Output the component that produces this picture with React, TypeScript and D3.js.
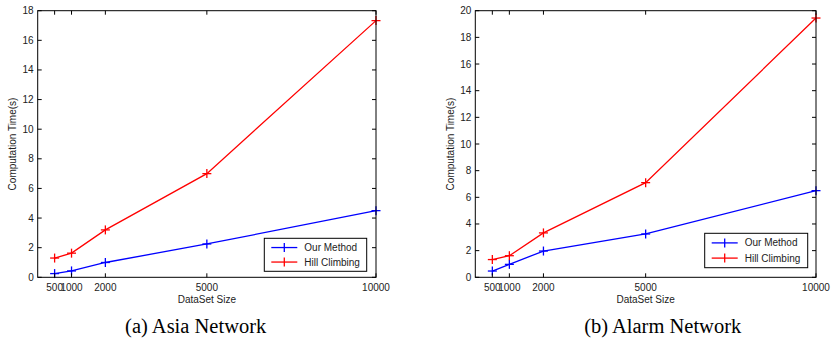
import React from "react";
import * as d3 from "d3";

const sizes = [500, 1000, 2000, 5000, 10000];
const xTickLabels = ["500", "1000", "2000", "5000", "10000"];
const seriesNames = ["Our Method", "Hill Climbing"];
const seriesColors = ["#0000ff", "#ff0000"];

const asiaOurMethod = [0.25, 0.43, 1.0, 2.25, 4.5];
const asiaHillClimbing = [1.3, 1.63, 3.2, 7.0, 17.33];
const asiaYTicks = [0, 2, 4, 6, 8, 10, 12, 14, 16, 18];

const alarmOurMethod = [0.47, 0.97, 1.97, 3.25, 6.5];
const alarmHillClimbing = [1.33, 1.62, 3.33, 7.1, 19.45];
const alarmYTicks = [0, 2, 4, 6, 8, 10, 12, 14, 16, 18, 20];

const captions = ["(a) Asia Network", "(b) Alarm Network"];

type PanelProps = {
  left: number;
  right: number;
  top: number;
  bottom: number;
  yMax: number;
  yTicks: number[];
  series: number[][];
  legend: { x0: number; x1: number; y0: number; y1: number };
  caption: string;
  captionX: number;
  yLabelX: number;
};

const sans = "'Liberation Sans', Arial, Helvetica, sans-serif";

function Panel(p: PanelProps) {
  const x = d3.scaleLinear().domain([0, 10000]).range([p.left, p.right]);
  const y = d3.scaleLinear().domain([0, p.yMax]).range([p.bottom, p.top]);
  const line = d3
    .line<number>()
    .x((_, i) => x(sizes[i]))
    .y((v) => y(v));
  const tk = 4;
  const m = 4.5;
  const lg = p.legend;
  const rowH = (lg.y1 - lg.y0) / 2;
  return (
    <g>
      {p.series.map((s, si) => (
        <g key={si}>
          <path d={line(s) || ""} fill="none" stroke={seriesColors[si]} strokeWidth={1.3} />
          {s.map((v, i) => (
            <g key={i} stroke={seriesColors[si]} strokeWidth={1.3}>
              <line x1={x(sizes[i]) - m} x2={x(sizes[i]) + m} y1={y(v)} y2={y(v)} />
              <line x1={x(sizes[i])} x2={x(sizes[i])} y1={y(v) - m} y2={y(v) + m} />
            </g>
          ))}
        </g>
      ))}
      <rect
        x={p.left}
        y={p.top}
        width={p.right - p.left}
        height={p.bottom - p.top}
        fill="none"
        stroke="#000"
        strokeWidth={1}
      />
      {p.yTicks.map((t) => (
        <g key={t}>
          <line x1={p.left} x2={p.left + tk} y1={y(t)} y2={y(t)} stroke="#000" />
          <line x1={p.right} x2={p.right - tk} y1={y(t)} y2={y(t)} stroke="#000" />
          <text
            x={p.left - 4}
            y={y(t)}
            textAnchor="end"
            dominantBaseline="central"
            fontSize={10}
            fontFamily={sans}
            fill="#222"
          >
            {t}
          </text>
        </g>
      ))}
      {sizes.map((t, i) => (
        <g key={t}>
          <line x1={x(t)} x2={x(t)} y1={p.bottom} y2={p.bottom - tk} stroke="#000" />
          <line x1={x(t)} x2={x(t)} y1={p.top} y2={p.top + tk} stroke="#000" />
          <text
            x={x(t)}
            y={p.bottom + 10}
            textAnchor="middle"
            dominantBaseline="central"
            fontSize={10}
            fontFamily={sans}
            fill="#222"
          >
            {xTickLabels[i]}
          </text>
        </g>
      ))}
      <text
        x={(p.left + p.right) / 2}
        y={p.bottom + 22}
        textAnchor="middle"
        dominantBaseline="central"
        fontSize={10}
        fontFamily={sans}
        fill="#222"
      >
        DataSet Size
      </text>
      <text
        transform={`translate(${p.yLabelX},${(p.top + p.bottom) / 2}) rotate(-90)`}
        textAnchor="middle"
        dominantBaseline="central"
        fontSize={10}
        fontFamily={sans}
        fill="#222"
      >
        Computation Time(s)
      </text>
      <rect
        x={lg.x0}
        y={lg.y0}
        width={lg.x1 - lg.x0}
        height={lg.y1 - lg.y0}
        fill="#fff"
        stroke="#000"
        strokeWidth={1}
      />
      {seriesNames.map((n, i) => {
        const cy = lg.y0 + rowH * (i + 0.5) + (i === 0 ? 1 : -1);
        const lx0 = lg.x0 + 7;
        const lx1 = lg.x0 + 33;
        const cx = (lx0 + lx1) / 2;
        return (
          <g key={n}>
            <line x1={lx0} x2={lx1} y1={cy} y2={cy} stroke={seriesColors[i]} strokeWidth={1.3} />
            <line x1={cx} x2={cx} y1={cy - m} y2={cy + m} stroke={seriesColors[i]} strokeWidth={1.3} />
            <text
              x={lg.x0 + 40}
              y={cy}
              dominantBaseline="central"
              fontSize={10}
              fontFamily={sans}
              fill="#222"
            >
              {n}
            </text>
          </g>
        );
      })}
      <text
        x={p.captionX}
        y={326}
        textAnchor="middle"
        dominantBaseline="central"
        fontSize={20.5}
        fontFamily="'Liberation Serif', 'Times New Roman', serif"
        fill="#000"
      >
        {p.caption}
      </text>
    </g>
  );
}

export default function App() {
  return (
    <svg width={832} height={338} style={{ position: "absolute", left: 0, top: 0, background: "#fff" }}>
      <rect width={832} height={338} fill="#fff" />
      <Panel
        left={37.7}
        right={376}
        top={10.7}
        bottom={277.3}
        yMax={18}
        yTicks={asiaYTicks}
        series={[asiaOurMethod, asiaHillClimbing]}
        legend={{ x0: 264.3, x1: 366.7, y0: 238.3, y1: 271.3 }}
        caption={captions[0]}
        captionX={195.7}
        yLabelX={12}
      />
      <Panel
        left={475.3}
        right={816}
        top={10.7}
        bottom={277.3}
        yMax={20}
        yTicks={alarmYTicks}
        series={[alarmOurMethod, alarmHillClimbing]}
        legend={{ x0: 704.7, x1: 807.7, y0: 233.3, y1: 267.7 }}
        caption={captions[1]}
        captionX={662.7}
        yLabelX={450}
      />
    </svg>
  );
}
